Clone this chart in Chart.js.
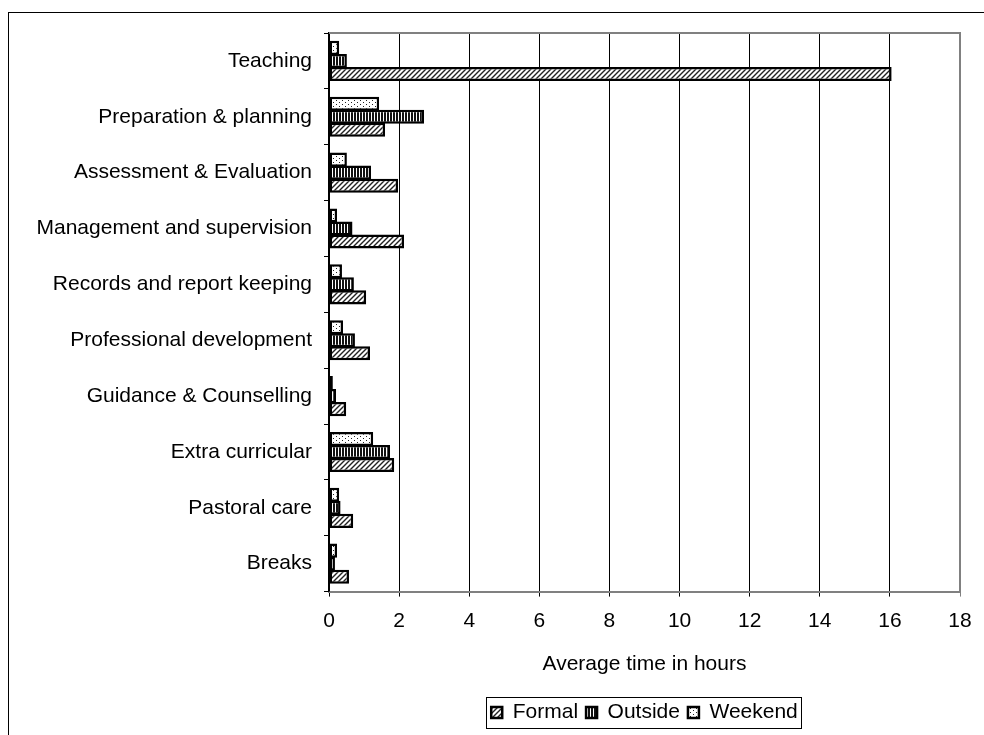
<!DOCTYPE html>
<html lang="en">
  <head>
    <meta charset="UTF-8" />
    <title>Average time in hours</title>
    <script src="https://cdn.jsdelivr.net/npm/chart.js@4.4.1/dist/chart.umd.min.js"></script>
    <style>
      body { margin: 0; background: #fff; }
      #frame {
        position: absolute; left: 8px; top: 12px; width: 1100px; height: 900px;
        border-left: 1px solid #000; border-top: 1px solid #000;
      }
      #chart { position: absolute; left: 0; top: 0; }
    </style>
  </head>

  <body>
    <div id="frame"></div>
    <canvas id="chart" width="984" height="735"></canvas>

    <script>
      const categories = [
        "Teaching",
        "Preparation & planning",
        "Assessment & Evaluation",
        "Management and supervision",
        "Records and report keeping",
        "Professional development",
        "Guidance & Counselling",
        "Extra curricular",
        "Pastoral care",
        "Breaks"
      ];
      const formal  = [16.05, 1.6, 1.97, 2.14, 1.06, 1.17, 0.49, 1.86, 0.69, 0.57];
      const outside = [0.51, 2.71, 1.2, 0.67, 0.71, 0.74, 0.2, 1.74, 0.33, 0.17];
      const weekend = [0.29, 1.43, 0.51, 0.23, 0.37, 0.4, 0.11, 1.26, 0.29, 0.23];
      const xTicks = [0, 2, 4, 6, 8, 10, 12, 14, 16, 18];

      // fill patterns like the old excel hatching
      function makeTile(w, h, paint) {
        const c = document.createElement("canvas");
        c.width = w; c.height = h;
        const g = c.getContext("2d");
        g.fillStyle = "#fff";
        g.fillRect(0, 0, w, h);
        paint(g);
        return g.createPattern(c, "repeat");
      }

      const ctx = document.getElementById("chart").getContext("2d");

      const hatch = makeTile(5, 5, (g) => {
        g.strokeStyle = "#222";
        g.lineWidth = 1.4;
        g.beginPath();
        g.moveTo(-1, 6); g.lineTo(6, -1);
        g.moveTo(-1, 1); g.lineTo(1, -1);
        g.moveTo(4, 6); g.lineTo(6, 4);
        g.stroke();
      });
      const stripes = makeTile(3, 3, (g) => {
        g.fillStyle = "#111";
        g.fillRect(0, 0, 2, 3);
      });
      const dots = makeTile(6, 4, (g) => {
        g.fillStyle = "#222";
        g.fillRect(0, 0, 1, 1);
        g.fillRect(3, 2, 1, 1);
      });

      const legendBorder = {
        id: "legendBorder",
        afterDraw(chart) {
          const boxes = chart.legend.legendHitBoxes;
          if (!boxes || !boxes.length) return;
          let l = Infinity, r = -Infinity, t = Infinity, b = -Infinity;
          boxes.forEach((h) => {
            l = Math.min(l, h.left); r = Math.max(r, h.left + h.width);
            t = Math.min(t, h.top); b = Math.max(b, h.top + h.height);
          });
          const c = chart.ctx;
          c.save();
          c.strokeStyle = "#000";
          c.lineWidth = 1;
          c.strokeRect(Math.round(l - 5) + 0.5, Math.round(t - 5) + 0.5, Math.round(r - l + 8), Math.round(b - t + 10));
          c.restore();
        }
      };

      const plotBorder = {
        id: "plotBorder",
        beforeDatasetsDraw(chart) {
          const a = chart.chartArea;
          const c = chart.ctx;
          c.save();
          c.strokeStyle = "#808080";
          c.lineWidth = 2;
          c.beginPath();
          c.moveTo(a.left, a.top);
          c.lineTo(a.right, a.top);
          c.lineTo(a.right, a.bottom);
          c.stroke();
          c.restore();
        }
      };

      const font = { family: "'Liberation Sans', Arial, sans-serif", size: 21 };

      new Chart(ctx, {
        type: "bar",
        data: {
          labels: categories,
          datasets: [
            { label: "Weekend", data: weekend, backgroundColor: dots },
            { label: "Outside", data: outside, backgroundColor: stripes },
            { label: "Formal", data: formal, backgroundColor: hatch }
          ].map((d) => Object.assign(d, {
            borderColor: "#000",
            borderWidth: 2.5,
            borderSkipped: false,
            categoryPercentage: 0.7,
            barPercentage: 1.08
          }))
        },
        options: {
          indexAxis: "y",
          responsive: false,
          animation: false,
          layout: { padding: { top: 33, right: 24, bottom: 2, left: 0 } },
          plugins: {
            tooltip: { enabled: false },
            legend: {
              position: "bottom",
              fullSize: false,
              reverse: true,
              labels: {
                font: font,
                color: "#000",
                boxWidth: 11,
                boxHeight: 11,
                padding: 8
              }
            }
          },
          scales: {
            x: {
              min: 0,
              max: 18,
              afterBuildTicks: (scale) => {
                scale.ticks = xTicks.map((v) => ({ value: v }));
              },
              grid: {
                color: (c) => (c.tick && c.tick.value === 18 ? "#808080" : "#000"),
                lineWidth: 1,
                tickLength: 5
              },
              border: { color: "#808080", width: 2 },
              ticks: { font: font, color: "#000", padding: 12 },
              title: {
                display: true,
                text: "Average time in hours",
                font: font,
                color: "#000",
                padding: { top: 6, bottom: 17 }
              }
            },
            y: {
              afterFit: (scale) => { scale.width = 329; },
              grid: { drawOnChartArea: false, color: "#000", tickLength: 5 },
              border: { color: "#000", width: 1.5 },
              ticks: { font: font, color: "#000", padding: 12 }
            }
          }
        },
        plugins: [plotBorder, legendBorder]
      });
    </script>
  </body>
</html>
